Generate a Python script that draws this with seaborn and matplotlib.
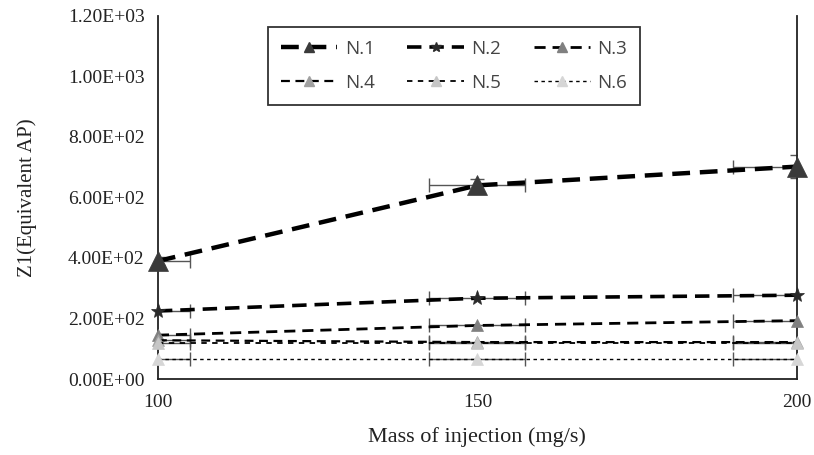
import matplotlib
matplotlib.use("Agg")
import matplotlib.pyplot as plt
import matplotlib.ticker as mticker
from matplotlib.lines import Line2D
import seaborn as sns
import numpy as np

mass = [100, 150, 200]
series_names = ["N.1", "N.2", "N.3", "N.4", "N.5", "N.6"]
n1 = [390, 640, 702]
n2 = [225, 267, 277]
n3 = [145, 177, 193]
n4 = [128, 122, 122]
n5 = [118, 118, 118]
n6 = [66, 66, 66]
n1_yerr = [12, 22, 38]
yticks = [0, 200, 400, 600, 800, 1000, 1200]
xticks = [100, 150, 200]

values = [n1, n2, n3, n4, n5, n6]
markers = ["^", "*", "^", "^", "^", "^"]
msizes = [15, 11, 9, 9, 9, 9]
mcolors = ["#3a3a3a", "#2a2a2a", "#808080", "#a0a0a0", "#c6c6c6", "#d6d6d6"]
lwidths = [3.2, 2.6, 2.0, 1.6, 1.3, 1.0]
dashes = [(0, (4, 2.2)), (0, (4, 2.2)), (0, (4, 2.5)), (0, (4, 2.5)), (0, (3, 3)), (0, (2.5, 2.5))]

sns.set_style("white")
fig, ax = plt.subplots(figsize=(8.14, 4.55), dpi=100)
fig.subplots_adjust(left=0.194, right=0.979, bottom=0.167, top=0.965)

handles = []
for i, (name, vals) in enumerate(zip(series_names, values)):
    xerr = [[0.05 * m for m in mass], [0.05 * m for m in mass]]
    yerr = n1_yerr if i == 0 else None
    ax.errorbar(mass, vals, xerr=xerr, yerr=yerr, fmt="none", ecolor="#555555",
                elinewidth=1.0, capsize=5, capthick=1.0, zorder=2, clip_on=True)
    sns.lineplot(x=mass, y=vals, ax=ax, color="black", linestyle=dashes[i],
                 linewidth=lwidths[i], marker=markers[i], markersize=msizes[i],
                 markerfacecolor=mcolors[i], markeredgecolor=mcolors[i],
                 markeredgewidth=0.5, zorder=3, clip_on=False, legend=False)
    handles.append(Line2D([0], [0], color="black", linestyle=dashes[i], linewidth=lwidths[i],
                          marker=markers[i], markersize=min(msizes[i], 9) * 0.8,
                          markerfacecolor=mcolors[i], markeredgecolor=mcolors[i]))

ax.set_xlim(100, 200)
ax.set_ylim(0, 1200)
ax.set_xticks(xticks)
ax.set_yticks(yticks)
ax.yaxis.set_major_formatter(mticker.FuncFormatter(lambda v, p: "%.2E" % v))
for s in ["left", "bottom", "right"]:
    ax.spines[s].set_visible(True)
    ax.spines[s].set_color("#222222")
    ax.spines[s].set_linewidth(1.3)
ax.spines["top"].set_visible(False)
ax.tick_params(axis="both", direction="inout", length=9, width=1.2, color="#222222",
               labelsize=14)
ax.tick_params(axis="y", right=False, pad=5)
ax.tick_params(axis="x", pad=6)
serif = ["Liberation Serif", "DejaVu Serif"]
for lab in ax.get_xticklabels() + ax.get_yticklabels():
    lab.set_family(serif)
    lab.set_color("#222222")
ax.set_xlabel("Mass of injection (mg/s)", family=serif, fontsize=16, color="#222222", labelpad=12)
ax.set_ylabel("Z1(Equivalent AP)", family=serif, fontsize=15, color="#222222", labelpad=22)

# matplotlib fills legend columns first; reorder so rows read N.1 N.2 N.3 / N.4 N.5 N.6
order = [0, 3, 1, 4, 2, 5]
leg = ax.legend([handles[k] for k in order], [series_names[k] for k in order], ncol=3,
                loc="upper left", bbox_to_anchor=(0.172, 0.97), borderaxespad=0,
                frameon=True, fancybox=False, edgecolor="black", handlelength=3.0,
                columnspacing=1.75, prop={"family": "Open Sans", "size": 13.5},
                borderpad=0.7, labelspacing=0.85, handletextpad=0.4)
leg.get_frame().set_linewidth(1.3)
for t in leg.get_texts():
    t.set_color("#444444")

fig.savefig("out.png", dpi=100)
